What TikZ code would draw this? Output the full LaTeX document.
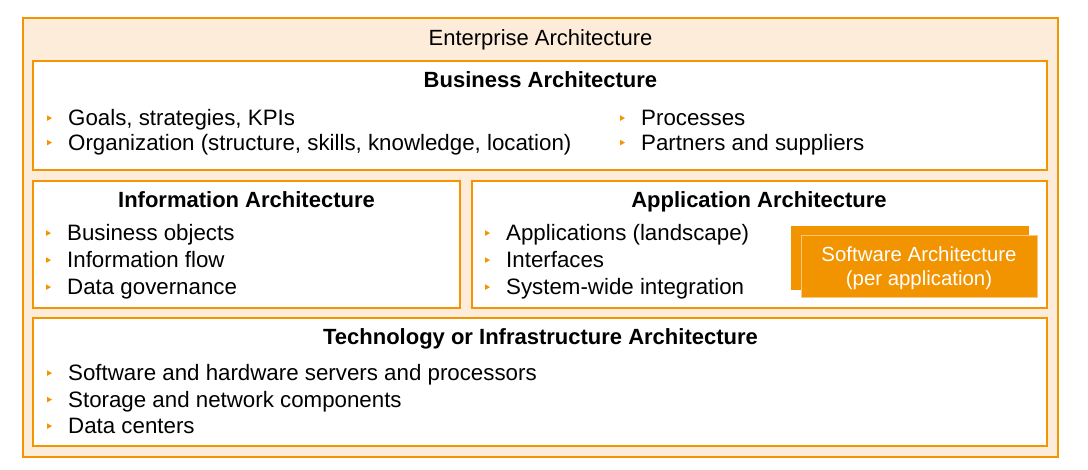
\documentclass[tikz,border=0pt]{standalone}
\usepackage{fontspec}
\setmainfont{Liberation Sans}
\definecolor{frameorange}{RGB}{243,148,0}
\definecolor{peach}{RGB}{253,236,217}
\definecolor{swfill}{RGB}{242,148,0}
\definecolor{swedge}{RGB}{250,200,130}
\begin{document}
\begin{tikzpicture}[x=1pt,y=-1pt,
  box/.style={draw=frameorange,line width=1.1pt,fill=white,inner sep=0pt,outer sep=0pt},
  outerbox/.style={draw=frameorange,line width=1.3pt,fill=peach,inner sep=0pt},
  swback/.style={fill=swfill,inner sep=0pt},
  swfront/.style={fill=swfill,draw=swedge,line width=0.8pt,inner sep=0pt},
  title/.style={anchor=base,inner sep=0pt,font=\fontsize{22}{26}\selectfont\bfseries},
  plain/.style={anchor=base,inner sep=0pt,font=\fontsize{22}{26}\selectfont},
  item/.style={anchor=base west,inner sep=0pt,font=\fontsize{22.3}{26}\selectfont},
  swtext/.style={anchor=base,inner sep=0pt,text=white,font=\fontsize{20.4}{24}\selectfont},
  bulletmark/.style={fill=frameorange}
]
\useasboundingbox (0,0) rectangle (1088,469);
% frames
\node[outerbox,minimum width=1035pt,minimum height=439pt] (ea) at (540.5,237.5) {};
\node[box,minimum width=1014pt,minimum height=109pt] (ba) at (540,115.5) {};
\node[box,minimum width=427pt,minimum height=127pt] (ia) at (246.5,244.5) {};
\node[box,minimum width=575pt,minimum height=127pt] (aa) at (759.5,244.5) {};
\node[box,minimum width=1014pt,minimum height=128pt] (ta) at (540,382) {};
% software architecture stack
\node[swback,minimum width=238pt,minimum height=64pt] (swb) at (910,258) {};
\node[swfront,minimum width=236pt,minimum height=62pt] (swf) at (919,266) {};
\node[swtext] (sw1) at (919,261) {Software Architecture};
\node[swtext] (sw2) at (919,285) {(per application)};
% titles
\node[plain] (eat) at (540.5,45) {Enterprise Architecture};
\node[title] (bat) at (540.5,87) {Business Architecture};
\node[title] (iat) at (246.5,207.5) {Information Architecture};
\node[title] (aat) at (759,207.5) {Application Architecture};
\node[title] (tat) at (540.5,344.5) {Technology or Infrastructure Architecture};
% business items
\node[item] (b1) at (68,125.5) {Goals, strategies, KPIs};
\node[item] (b2) at (68,150) {Organization (structure, skills, knowledge, location)};
\node[item] (b3) at (641,125.5) {Processes};
\node[item] (b4) at (641,150) {Partners and suppliers};
% information items
\node[item] (i1) at (67,240.5) {Business objects};
\node[item] (i2) at (67,267.5) {Information flow};
\node[item] (i3) at (67,294.5) {Data governance};
% application items
\node[item] (a1) at (506,240.5) {Applications (landscape)};
\node[item] (a2) at (506,267.5) {Interfaces};
\node[item] (a3) at (506,294.5) {System-wide integration};
% technology items
\node[item] (t1) at (68,380.5) {Software and hardware servers and processors};
\node[item] (t2) at (68,407) {Storage and network components};
\node[item] (t3) at (68,433.5) {Data centers};
% bullet markers
\foreach \n in {b1,b2,b3,b4,i1,i2,i3,a1,a2,a3,t1,t2,t3}
  \fill[bulletmark] ([shift={(-21,-10.2)}]\n.base west) -- ([shift={(-16,-7.4)}]\n.base west) -- ([shift={(-21,-4.6)}]\n.base west) -- cycle;
\end{tikzpicture}
\end{document}
